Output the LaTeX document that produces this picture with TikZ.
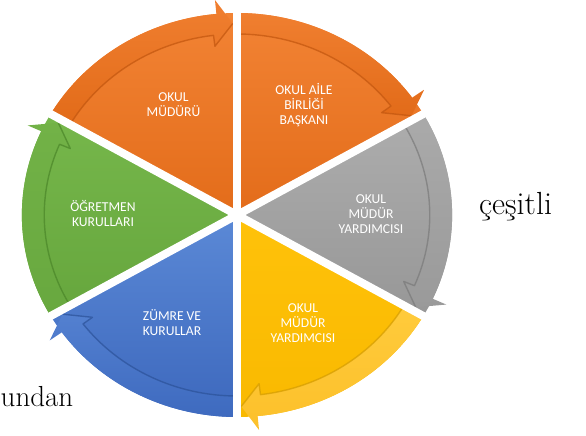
\documentclass[tikz,border=0pt]{standalone}
\usepackage{fontspec}
\newfontfamily\carl{Carlito}
\definecolor{oT}{HTML}{F28334}
\definecolor{oB}{HTML}{E36C1A}
\definecolor{obT}{HTML}{F07F30}
\definecolor{obB}{HTML}{E26B19}
\definecolor{oS}{HTML}{C2560F}
\definecolor{gT}{HTML}{ADADAD}
\definecolor{gB}{HTML}{979797}
\definecolor{gbT}{HTML}{AAAAAA}
\definecolor{gbB}{HTML}{9A9A9A}
\definecolor{gS}{HTML}{7A7A7A}
\definecolor{yT}{HTML}{FFC20A}
\definecolor{yB}{HTML}{F9B900}
\definecolor{ybT}{HTML}{FFCB3C}
\definecolor{ybB}{HTML}{FCC02A}
\definecolor{yS}{HTML}{D49C00}
\definecolor{bT}{HTML}{5B89D6}
\definecolor{bB}{HTML}{3D68BD}
\definecolor{bbT}{HTML}{5380D0}
\definecolor{bbB}{HTML}{3E6ABF}
\definecolor{bS}{HTML}{2C5299}
\definecolor{vT}{HTML}{76B74B}
\definecolor{vB}{HTML}{66A63D}
\definecolor{vbT}{HTML}{72B247}
\definecolor{vbB}{HTML}{68A83F}
\definecolor{vS}{HTML}{4B8629}
\begin{document}
\begin{tikzpicture}[x=1pt,y=1pt,
  lbl/.style={text=white, font=\carl\fontsize{13.6}{15}\selectfont, align=center, inner sep=0pt},
  big/.style={font=\fontsize{32}{38}\selectfont, inner sep=0pt},
  gapline/.style={white, line width=8pt}]
\useasboundingbox (0,0) rectangle (586,436);
\begin{scope}[shift={(237,221)}, xscale=1.065]
  \foreach \a/\b/\wt/\wb/\bt/\bb/\sh in {%
      150/90/oT/oB/obT/obB/oS,
      90/30/oT/oB/obT/obB/oS,
      30/-30/gT/gB/gbT/gbB/gS,
      -30/-90/yT/yB/ybT/ybB/yS,
      270/210/bT/bB/bbT/bbB/bS,
      210/150/vT/vB/vbT/vbB/vS}
  {
    \pgfmathsetmacro\ao{\b+5.5}
    \pgfmathsetmacro\ai{\b+7}
    \pgfmathsetmacro\at{\b+1.2}
    \path[top color=\wt, bottom color=\wb]
      (0,0) -- (\a:202) arc[start angle=\a, end angle=\b, radius=202] -- cycle;
    \path[top color=\bt, bottom color=\bb]
      (\a:181) -- (\a:202) arc[start angle=\a, end angle=\ao, radius=202]
      -- (\ao:216) -- (\at:191.5) -- (\ai:170) -- (\ai:181)
      arc[start angle=\ai, end angle=\a, radius=181] -- cycle;
    \draw[\sh, line width=1.4pt, line join=round, draw opacity=0.7]
      (\at:191.5) -- (\ai:170) -- (\ai:181) arc[start angle=\ai, end angle=\a, radius=181];
  }
  \foreach \g in {30,90,...,330}
    \draw[gapline] (0,0) -- (\g:236);
\end{scope}
\node[lbl] (t1) at (173.5,331) {OKUL\\MÜDÜRÜ};
\node[lbl] (t2) at (304,331) {OKUL AİLE\\BİRLİĞİ\\BAŞKANI};
\node[lbl] (t3) at (371,222) {OKUL\\MÜDÜR\\YARDIMCISI};
\node[lbl] (t4) at (303,113) {OKUL\\MÜDÜR\\YARDIMCISI};
\node[lbl] (t5) at (172,113) {ZÜMRE VE\\KURULLAR};
\node[lbl] (t6) at (103,222) {ÖĞRETMEN\\KURULLARI};
\node[big, anchor=base west] (w1) at (479,221) {çeşitli};
\node[big, font=\fontsize{29}{34}\selectfont, anchor=base west] (w2) at (0.5,29.3) {undan};
\end{tikzpicture}
\end{document}
